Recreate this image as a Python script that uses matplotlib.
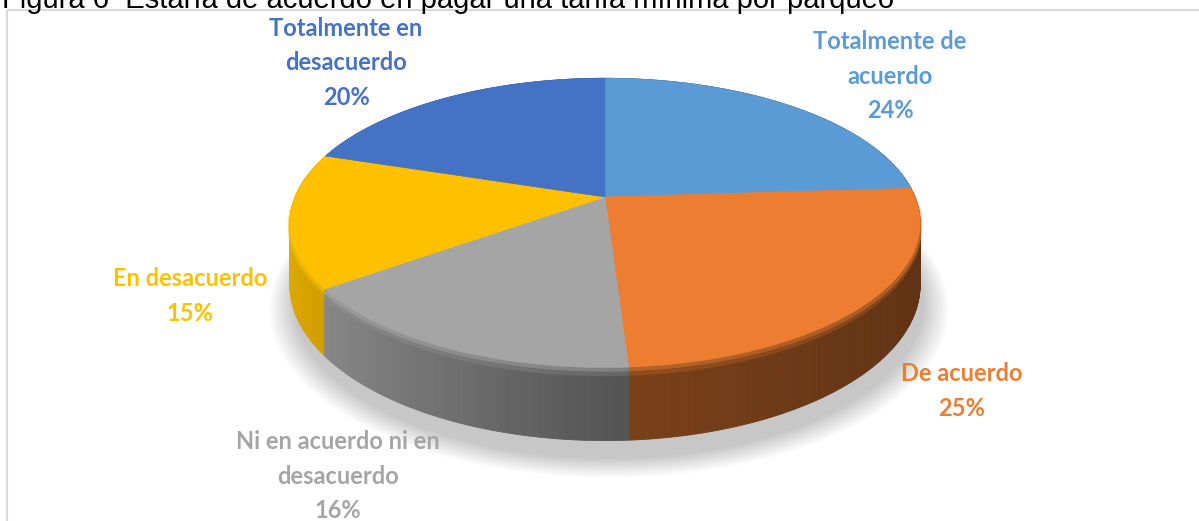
import numpy as np
import matplotlib
matplotlib.use("Agg")
import matplotlib.pyplot as plt
from matplotlib.patches import Polygon, Rectangle
from matplotlib.colors import to_rgb

# Survey answers, in clockwise order starting at 12 o'clock
categories = ["Totalmente de acuerdo", "De acuerdo", "Ni en acuerdo ni en desacuerdo",
              "En desacuerdo", "Totalmente en desacuerdo"]
shares = [24, 25, 16, 15, 20]
label_texts = ["Totalmente de\nacuerdo", "De acuerdo", "Ni en acuerdo ni en\ndesacuerdo",
               "En desacuerdo", "Totalmente en\ndesacuerdo"]
colors = ["#5B9BD5", "#ED7D31", "#A5A5A5", "#FFC000", "#4472C4"]
title = "Figura 6  Estaría de acuerdo en pagar una tarifa mínima por parqueo"

W, Hpx = 1199, 521
fig = plt.figure(figsize=(W / 100, Hpx / 100), dpi=100)
ax = fig.add_axes([0, 0, 1, 1])
ax.set_xlim(0, W)
ax.set_ylim(Hpx, 0)
ax.axis("off")

# Perspective disc geometry (pixel units)
cx, cy = 605, 197
A, B, p = 310, 140, 0.179
depth = 60


def proj(theta, z=0.0):
    t = np.radians(theta)
    d = 1 - p * np.sin(t)
    return cx + A * np.cos(t) / d, cy + (B * np.sin(t) + depth * z) / d


def shade(theta):
    c = np.cos(np.radians(theta))
    return 0.52 - 0.37 * c if c < 0 else 0.52 - 0.12 * c


def scaled(col, f):
    r, g, b = to_rgb(col)
    return (min(r * f, 1), min(g * f, 1), min(b * f, 1))


# angular extent of each slice (clockwise on screen = increasing theta)
starts, ends = [], []
acc = -90.0
for s in shares:
    starts.append(acc)
    acc += 360.0 * s / sum(shares)
    ends.append(acc)

# soft shadow under the disc
for k in range(14):
    grow = 1 + 0.006 * k
    th = np.linspace(0, 360, 240)
    xs, ys = proj(th, 1.0)
    xs = cx + (xs - cx) * grow + 4
    ys = cy + 12 + (ys - cy) * grow + 6
    ax.add_patch(Polygon(np.c_[xs, ys], closed=True, facecolor="#000000",
                         edgecolor="none", alpha=0.016, zorder=1))

# side wall, drawn back to front in thin strips
strips = []
for i, col in enumerate(colors):
    n = max(int(ends[i] - starts[i]), 2) * 2
    edges = np.linspace(starts[i], ends[i], n + 1)
    for a0, a1 in zip(edges[:-1], edges[1:]):
        mid = 0.5 * (a0 + a1)
        strips.append((np.sin(np.radians(mid)), a0, a1, col))
strips.sort(key=lambda s: s[0])
for _, a0, a1, col in strips:
    mid = 0.5 * (a0 + a1)
    fc = scaled(col, shade(mid))
    x0t, y0t = proj(a0, 0.0)
    x1t, y1t = proj(a1, 0.0)
    x0b, y0b = proj(a0, 1.0)
    x1b, y1b = proj(a1, 1.0)
    ax.add_patch(Polygon([(x0t, y0t), (x1t, y1t), (x1b, y1b), (x0b, y0b)], closed=True,
                         facecolor=fc, edgecolor=fc, linewidth=0.6, zorder=2))

# soft bevel along the front rim: light band then fading into the wall
for i, col in enumerate(colors):
    lo, hi = max(starts[i], 3), min(ends[i], 177)
    if hi <= lo:
        continue
    th = np.linspace(lo, hi, 120)
    for z, f, a, lw in [(0.03, 1.10, 0.45, 3.0), (0.09, 0.95, 0.25, 3.0)]:
        xs, ys = proj(th, z)
        ax.plot(xs, ys, color=scaled(col, f), lw=lw, alpha=a, zorder=3,
                solid_capstyle="butt")

# top faces
for i, col in enumerate(colors):
    th = np.linspace(starts[i], ends[i], 200)
    xs, ys = proj(th, 0.0)
    pts = np.vstack([[cx, cy], np.c_[xs, ys]])
    ax.add_patch(Polygon(pts, closed=True, facecolor=col, edgecolor=col,
                         linewidth=0.5, zorder=4))

# data labels
label_pos = [(890, 76), (962, 391), (338, 476), (190, 296), (346, 63)]
for i in range(len(shares)):
    x, y = label_pos[i]
    ax.text(x, y, f"{label_texts[i]}\n{shares[i]}%", ha="center", va="center",
            color=colors[i], fontsize=17, fontweight="bold", family="Lato",
            linespacing=1.6, zorder=6)

# chart frame
ax.add_patch(Rectangle((7, 10), W, Hpx, facecolor="none", edgecolor="#D9D9D9",
                       linewidth=1.5, zorder=0))

# caption running off the top edge
ax.text(2, 8, title, ha="left", va="baseline", fontsize=21, family="Liberation Sans",
        color="black", zorder=7)

fig.savefig("out.png", dpi=100)
